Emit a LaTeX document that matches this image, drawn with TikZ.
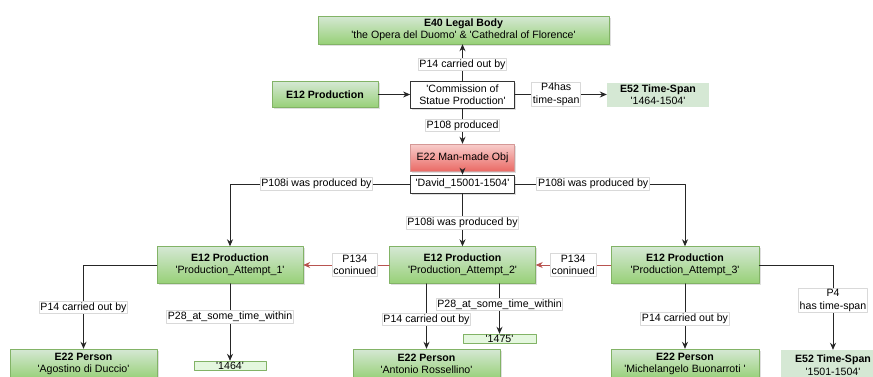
\documentclass[tikz,border=0pt]{standalone}
\usepackage{fontspec}
\setmainfont{Liberation Sans}[Ligatures=TeXOff]
\usepackage{xcolor}
\usetikzlibrary{arrows.meta,shadows}
\definecolor{boxgreen}{HTML}{D5E8D4}
\definecolor{deepgreen}{HTML}{97D077}
\definecolor{edgegreen}{HTML}{82B366}
\definecolor{boxred}{HTML}{F8CECC}
\definecolor{deepred}{HTML}{EA6B66}
\definecolor{edgered}{HTML}{B85450}
\definecolor{paledate}{HTML}{E4F7DE}

\begin{document}
\begin{tikzpicture}[line cap=round,line join=round,x=1pt,y=-1pt,
    font=\fontsize{10.6}{12.5}\selectfont,
    >={Stealth[length=7pt,width=6pt]},
    greenbox/.style={draw=edgegreen,top color=boxgreen,bottom color=deepgreen,align=center,inner sep=0pt,
        drop shadow={opacity=0.25,shadow xshift=1.5pt,shadow yshift=-1.5pt}},
    redbox/.style={draw=edgered!60,top color=boxred,bottom color=deepred,align=center,inner sep=0pt,
        drop shadow={opacity=0.25,shadow xshift=1.5pt,shadow yshift=-1.5pt}},
    valbox/.style={draw=black!80,fill=white,align=center,inner sep=0pt,line width=0.8pt,
        drop shadow={opacity=0.25,shadow xshift=1.5pt,shadow yshift=-1.5pt}},
    spanbox/.style={fill=boxgreen,align=center,inner sep=0pt},
    datebox/.style={draw=edgegreen,fill=paledate,inner sep=0pt,text height=7pt,text depth=0pt,
        drop shadow={opacity=0.2,shadow xshift=1pt,shadow yshift=-1pt}},
    link/.style={->,draw=black!85,line width=0.8pt},
    redlink/.style={->,draw=edgered,line width=0.8pt},
    lbl/.style={fill=white,draw=black!15,inner sep=1.2pt,align=center,text=black}]
\useasboundingbox (0,0) rectangle (873,376);
\node[greenbox,minimum width=291,minimum height=28] (legal) at (463.5,30)
    {\textbf{E40 Legal Body}\\'the Opera del Duomo' \& 'Cathedral of Florence'};
\node[greenbox,minimum width=106,minimum height=26] (prodtop) at (325,94.5) {\textbf{E12 Production}};
\node[valbox,minimum width=104,minimum height=27] (commission) at (462.5,94.5) {'Commission of\\Statue Production'};
\node[spanbox,minimum width=102,minimum height=24] (spantop) at (658,94.5) {\textbf{E52 Time-Span}\\'1464-1504'};
\node[redbox,minimum width=104,minimum height=27] (manmade) at (462.5,157.5) {E22 Man-made Obj};
\node[valbox,minimum width=104,minimum height=18] (david) at (462.5,184) {'David\_15001-1504'};
\node[greenbox,minimum width=146,minimum height=37] (att1) at (230,265) {\textbf{E12 Production}\\'Production\_Attempt\_1'};
\node[greenbox,minimum width=146,minimum height=37] (att2) at (462.5,265) {\textbf{E12 Production}\\'Production\_Attempt\_2'};
\node[greenbox,minimum width=148,minimum height=37] (att3) at (685,265) {\textbf{E12 Production}\\'Production\_Attempt\_3'};
\node[greenbox,minimum width=147,minimum height=30] (pers1) at (83.5,364) {\textbf{E22 Person}\\'Agostino di Duccio'};
\node[greenbox,minimum width=147,minimum height=30] (pers2) at (426.5,364) {\textbf{E22 Person}\\'Antonio Rossellino'};
\node[greenbox,minimum width=148,minimum height=30] (pers3) at (685,364) {\textbf{E22 Person}\\'Michelangelo Buonarroti '};
\node[spanbox,minimum width=104,minimum height=30] (span2) at (833,365) {\textbf{E52 Time-Span}\\'1501-1504'};
\node[datebox,minimum width=72,minimum height=9] (date1) at (230,365.5) {'1464'};
\node[datebox,minimum width=73,minimum height=9] (date2) at (499.5,338.5) {'1475'};

\draw[link] (prodtop.east) -- (commission.west);
\draw[link] (commission.north) -- (commission.north |- legal.south) node[lbl,pos=0.44] (lblcarried) {P14 carried out by};
\draw[link] (commission.east) -- (spantop.west) node[lbl,pos=0.45] (lblspan) {P4has\\time-span};
\draw[link] (commission.south) -- (manmade.north) node[lbl,pos=0.49] (lblproduced) {P108 produced};
\draw[link] (manmade.south) -- (david.north);
\draw[link] (david.west) -| (att1.north) node[lbl,pos=0.26] (lblwas1) {P108i was produced by};
\draw[link] (david.south) -- (att2.north) node[lbl,pos=0.56] (lblwas2) {P108i was produced by};
\draw[link] (david.east) -| (att3.north) node[lbl,pos=0.23] (lblwas3) {P108i was produced by};
\draw[redlink] (att2.west) -- (att1.east) node[lbl,pos=0.4] (lblcont1) {P134\\coninued};
\draw[redlink] (att3.west) -- (att2.east) node[lbl,pos=0.5] (lblcont2) {P134\\coninued};
\draw[link] (att1.west) -| (pers1.north) node[lbl,pos=0.755] (lblby1) {P14 carried out by};
\draw[link] (att1.south) -- (date1.north) node[lbl,pos=0.43] (lbltime1) {P28\_at\_some\_time\_within};
\draw[link] (att2.south -| pers2.north) -- (pers2.north) node[lbl,pos=0.55] (lblby2) {P14 carried out by};
\draw[link] (att2.south -| date2.north) -- (date2.north) node[lbl,pos=0.42] (lbltime2) {P28\_at\_some\_time\_within};
\draw[link] (att3.south) -- (pers3.north) node[lbl,pos=0.54] (lblby3) {P14 carried out by};
\draw[link] (att3.east) -| (span2.north) node[lbl,pos=0.71] (lblspan2) {P4\\has time-span};
\end{tikzpicture}
\end{document}
